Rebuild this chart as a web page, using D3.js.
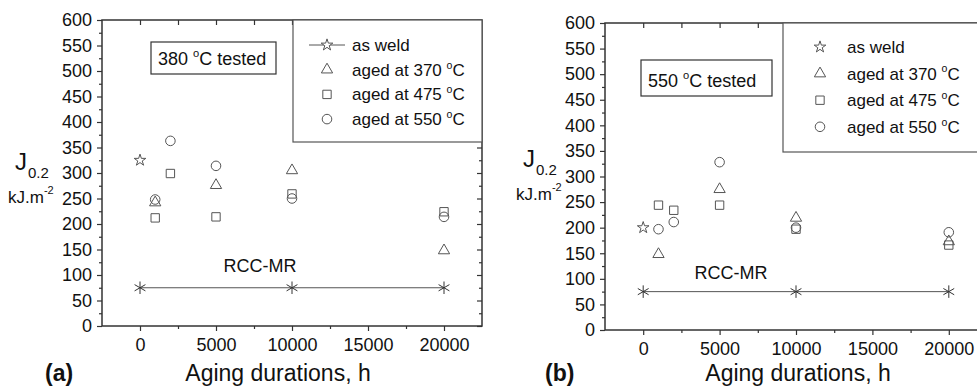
<!DOCTYPE html>
<html>
<head>
<meta charset="utf-8">
<script src="https://cdn.jsdelivr.net/npm/d3@7"></script>
<style>
body { margin: 0; background: #fff; }
svg text { font-family: "Liberation Sans", Arial, sans-serif; fill: #111; }
</style>
</head>
<body>
<div id="chart"></div>
<script>
// ---- data (J0.2 in kJ/m2 vs aging hours) ----
// (a) 380 C tested
var weldA = [325];
var hoursA370 = [1000, 5000, 10000, 20000];
var jA370 = [242, 276, 305, 148];
var hoursA475 = [1000, 2000, 5000, 10000, 20000];
var jA475 = [212, 299, 214, 259, 224];
var hoursA550 = [1000, 2000, 5000, 10000, 20000];
var jA550 = [248, 363, 314, 250, 214];
// (b) 550 C tested
var weldB = [200];
var hoursB370 = [1000, 5000, 10000, 20000];
var jB370 = [148, 275, 219, 173];
var hoursB475 = [1000, 2000, 5000, 10000, 20000];
var jB475 = [244, 234, 244, 197, 166];
var hoursB550 = [1000, 2000, 5000, 10000, 20000];
var jB550 = [197, 211, 328, 200, 191];
// RCC-MR design value
var rccHours = [0, 10000, 20000];
var rccJ = [75, 75, 75];

var xTickLabels = [0, 5000, 10000, 15000, 20000];
var yTickLabels = d3.range(0, 601, 50);
var legendNames = ["as weld", "aged at 370 ", "aged at 475 ", "aged at 550 "];

var grey = "#555";
var svg = d3.select("#chart").append("svg").attr("width", 977).attr("height", 388);

var symStar = d3.symbol().type(d3.symbolStar).size(42);
var symTri = d3.symbol().type(d3.symbolTriangle).size(55);
var symSq = d3.symbol().type(d3.symbolSquare).size(70);
var symCirc = d3.symbol().type(d3.symbolCircle).size(72);
var symAst = d3.symbol().type(d3.symbolAsterisk).size(110);
var legendSyms = [symStar, symTri, symSq, symCirc];

function degText(sel, before, after, size) {
  sel.append("tspan").text(before);
  sel.append("tspan").attr("font-size", size * 0.62).attr("dy", -size * 0.42).text("o");
  sel.append("tspan").attr("dy", size * 0.42).text(after);
}

function drawPanel(p) {
  var x = d3.scaleLinear().domain([-2500, 22500]).range([p.left, p.right]);
  var y = d3.scaleLinear().domain([0, 600]).range([p.bottom, p.top]);
  var g = svg.append("g");

  // axes
  g.append("g").attr("transform", "translate(" + p.left + ",0)")
    .call(d3.axisLeft(y).tickValues(yTickLabels).tickSize(5).tickPadding(5).tickSizeOuter(0));
  g.append("g").attr("transform", "translate(" + p.left + ",0)")
    .call(d3.axisLeft(y).tickValues(d3.range(25, 600, 50)).tickSize(3).tickFormat("").tickSizeOuter(0));
  g.append("g").attr("transform", "translate(0," + p.bottom + ")")
    .call(d3.axisBottom(x).tickValues(xTickLabels).tickSize(5).tickPadding(7).tickFormat(d3.format("d")).tickSizeOuter(0));
  g.append("g").attr("transform", "translate(0," + p.bottom + ")")
    .call(d3.axisBottom(x).tickValues([2500, 7500, 12500, 17500]).tickSize(3).tickFormat("").tickSizeOuter(0));
  g.append("g").attr("transform", "translate(0," + p.top + ")")
    .call(d3.axisBottom(x).tickValues(d3.range(0, 20001, 2500)).tickSize(5).tickFormat("").tickSizeOuter(0));
  g.append("g").attr("transform", "translate(" + p.right + ",0)")
    .call(d3.axisLeft(y).tickValues(yTickLabels).tickSize(5).tickFormat("").tickSizeOuter(0));
  g.append("g").attr("transform", "translate(" + p.right + ",0)")
    .call(d3.axisLeft(y).tickValues(d3.range(25, 600, 50)).tickSize(3).tickFormat("").tickSizeOuter(0));
  g.selectAll(".domain").remove();
  g.selectAll(".tick line").attr("stroke", "#333").attr("stroke-width", 1.2);
  g.selectAll(".tick text").attr("font-size", 18).attr("font-family", "Liberation Sans, Arial, sans-serif").attr("fill", "#111");
  g.append("rect").attr("x", p.left).attr("y", p.top)
    .attr("width", p.right - p.left).attr("height", p.bottom - p.top)
    .attr("fill", "none").attr("stroke", "#333").attr("stroke-width", 1.5);

  // legend box
  g.append("rect").attr("x", p.legX).attr("y", p.top)
    .attr("width", p.right - p.legX).attr("height", p.legBottom - p.top)
    .attr("fill", "#fff").attr("stroke", grey).attr("stroke-width", 1.2);
  legendNames.forEach(function(name, i) {
    var cy = p.legY0 + i * p.legDy;
    if (i === 0 && p.legLine) {
      g.append("line").attr("x1", p.legSymX - 18).attr("x2", p.legSymX + 18)
        .attr("y1", cy).attr("y2", cy).attr("stroke", grey).attr("stroke-width", 1);
    }
    g.append("path").attr("d", legendSyms[i]()).attr("transform", "translate(" + p.legSymX + "," + cy + ")")
      .attr("fill", i === 0 ? "#fff" : "none").attr("stroke", grey).attr("stroke-width", 1);
    var t = g.append("text").attr("x", p.legTextX).attr("y", cy + 6).attr("font-size", 17);
    if (i === 0) t.text(name); else degText(t, name, "C", 17);
  });

  // test-temperature box
  g.append("rect").attr("x", p.boxX).attr("y", p.boxY).attr("width", p.boxW).attr("height", p.boxH)
    .attr("fill", "#fff").attr("stroke", "#333").attr("stroke-width", 1.2);
  degText(g.append("text").attr("x", p.boxX + 7).attr("y", p.boxY + p.boxH - 9).attr("font-size", 18),
    p.temp + " ", "C tested", 18);

  // RCC-MR line
  var line = d3.line().x(function(d, i) { return x(rccHours[i]); }).y(function(d) { return y(d); });
  g.append("path").attr("d", line(rccJ)).attr("fill", "none").attr("stroke", grey).attr("stroke-width", 1);
  rccJ.forEach(function(v, i) {
    g.append("path").attr("d", symAst()).attr("transform", "translate(" + x(rccHours[i]) + "," + y(v) + ")")
      .attr("fill", "none").attr("stroke", "#333").attr("stroke-width", 1);
  });
  g.append("text").attr("x", p.rccX).attr("y", y(p.rccY)).attr("text-anchor", "middle")
    .attr("font-size", 18).text("RCC-MR");

  // points
  function pts(hours, vals, sym, fill) {
    vals.forEach(function(v, i) {
      g.append("path").attr("d", sym()).attr("transform", "translate(" + x(hours[i]) + "," + y(v) + ")")
        .attr("fill", fill).attr("stroke", grey).attr("stroke-width", 1);
    });
  }
  pts(p.h475, p.j475, symSq, "none");
  pts(p.h550, p.j550, symCirc, "none");
  pts(p.h370, p.j370, symTri, "none");
  pts([0], p.weld, symStar, "none");

  // axis titles
  var jt = g.append("text").attr("x", p.jX).attr("y", p.jY).attr("font-size", 24);
  jt.append("tspan").text("J");
  jt.append("tspan").attr("font-size", 15).attr("dy", 8).attr("dx", 1).text("0.2");
  var kt = g.append("text").attr("x", p.jX - 7).attr("y", p.jY + 33).attr("font-size", 17);
  kt.append("tspan").text("kJ.m");
  kt.append("tspan").attr("font-size", 11).attr("dy", -9).text("-2");
  g.append("text").attr("x", p.xTitleX).attr("y", 381).attr("font-size", 23)
    .attr("text-anchor", "middle").text("Aging durations, h");
  g.append("text").attr("x", p.tagX).attr("y", 381).attr("font-size", 23).attr("font-weight", "bold")
    .text(p.tag);
}

drawPanel({
  left: 102, right: 482, top: 20, bottom: 326,
  legX: 293, legBottom: 142, legY0: 45, legDy: 24.7, legSymX: 327, legTextX: 352, legLine: true,
  boxX: 151, boxY: 42, boxW: 125, boxH: 32, temp: "380", rccX: 260, rccY: 105,
  h370: hoursA370, j370: jA370, h475: hoursA475, j475: jA475, h550: hoursA550, j550: jA550, weld: weldA,
  jX: 15, jY: 170, xTitleX: 278, tagX: 45, tag: "(a)"
});
drawPanel({
  left: 605, right: 987, top: 23, bottom: 330,
  legX: 783, legBottom: 152, legY0: 47, legDy: 26.6, legSymX: 820, legTextX: 847, legLine: false,
  boxX: 641, boxY: 60, boxW: 131, boxH: 36, temp: "550", rccX: 731, rccY: 100,
  h370: hoursB370, j370: jB370, h475: hoursB475, j475: jB475, h550: hoursB550, j550: jB550, weld: weldB,
  jX: 523, jY: 167, xTitleX: 798, tagX: 545, tag: "(b)"
});
</script>
</body>
</html>
